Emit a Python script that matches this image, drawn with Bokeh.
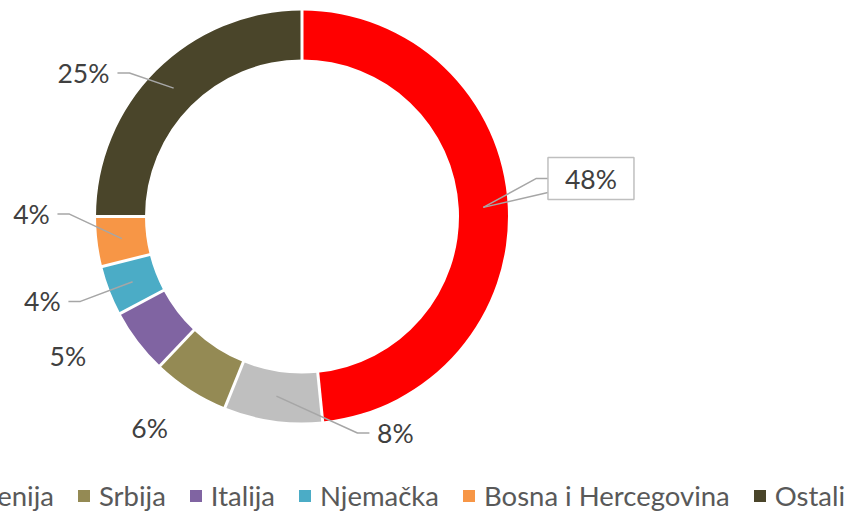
import numpy as np
from bokeh.plotting import figure
from bokeh.models import Range1d, ColumnDataSource, Legend, LegendItem
from bokeh.embed import file_html
from bokeh.resources import INLINE
from bokeh.core.properties import value

# ---- data ----
categories = ["Hrvatska", "Slovenija", "Srbija", "Italija", "Njemačka", "Bosna i Hercegovina", "Ostali"]
shares = [48.4, 7.7, 6.0, 5.1, 3.9, 3.9, 25.0]
colors = ["#FF0000", "#BFBFBF", "#948A54", "#8064A2", "#4BACC6", "#F79646", "#4A452A"]
# legend entries visible in the (cropped) reference
legend_shown = [False, True, True, True, True, True, True]

# ---- layout (pixels) ----
W, H = 855, 513
CX, CY = 301.5, 297.0
R_OUT, R_IN = 206.0, 157.0
R_MID = (R_OUT + R_IN) / 2
# label centre offsets from the ring point at each slice's mid angle
label_off = [(107.7, 28.8), (119.0, -36.8), (-54.2, -58.7), (-89.7, -30.0),
             (-90.2, -19.7), (-90.4, 24.6), (-90.2, 15.2)]
leader = ["box", "elbow", None, None, "elbow", "elbow", "elbow"]
elbow_dx = [0, -26, 0, 0, 26, 26, 34]
ELBOW_LEN = 12
BOX_W, BOX_H = 86, 42
FONT = "Lato"

vals = np.array(shares, dtype=float)
frac = vals / vals.sum()
cum = np.concatenate([[0.0], np.cumsum(frac)])
start = np.pi / 2 - 2 * np.pi * cum[:-1]
end = np.pi / 2 - 2 * np.pi * cum[1:]
mid = (start + end) / 2

src = ColumnDataSource(dict(start=start, end=end, color=colors, name=categories))

p = figure(width=W, height=H, x_range=Range1d(0, W), y_range=Range1d(0, H),
           output_backend="svg", toolbar_location=None, min_border=0,
           x_axis_type=None, y_axis_type=None)
p.grid.visible = False
p.outline_line_color = None
p.background_fill_color = "white"
p.border_fill_color = "white"

wedges = p.annular_wedge(x=CX, y=CY, inner_radius=R_IN, outer_radius=R_OUT,
                         start_angle="start", end_angle="end", direction="clock",
                         fill_color="color", line_color=None, source=src)

# white separators between slices
bnd = np.pi / 2 - 2 * np.pi * cum[:-1]
p.segment(x0=CX + (R_IN - 2) * np.cos(bnd), y0=CY + (R_IN - 2) * np.sin(bnd),
          x1=CX + (R_OUT + 2) * np.cos(bnd), y1=CY + (R_OUT + 2) * np.sin(bnd),
          line_color="white", line_width=3)

# labels and leaders
rx = CX + R_MID * np.cos(mid)
ry = CY + R_MID * np.sin(mid)
lx = rx + np.array([o[0] for o in label_off])
ly = ry + np.array([o[1] for o in label_off])
texts = [f"{int(round(v))}%" for v in vals]

xs, ys = [], []
for i, kind in enumerate(leader):
    if kind == "elbow":
        ex = lx[i] + elbow_dx[i]
        ex2 = ex + np.sign(elbow_dx[i]) * ELBOW_LEN
        xs.append([ex, ex2, rx[i]])
        ys.append([ly[i], ly[i], ry[i]])
    elif kind == "box":
        bl = lx[i] - BOX_W / 2
        xs.append([rx[i], bl - 12, bl])
        ys.append([ry[i], ly[i], ly[i]])
        xs.append([rx[i], bl])
        ys.append([ry[i], ly[i] - 14])
p.multi_line(xs=xs, ys=ys, line_color="#A6A6A6", line_width=1.5)

bi = [i for i, k in enumerate(leader) if k == "box"]
p.rect(x=lx[bi], y=ly[bi], width=BOX_W, height=BOX_H, fill_color="white",
       line_color="#BFBFBF", line_width=1.5)

p.text(x=lx, y=ly, text=texts, text_align="center", text_baseline="middle",
       text_font=value(FONT), text_font_size="26.5px", text_color="#404040")

items = [LegendItem(label=c, renderers=[wedges], index=i)
         for i, c in enumerate(categories) if legend_shown[i]]
legend = Legend(items=items, orientation="horizontal", location=(-76, 1),
                glyph_width=15, glyph_height=15, label_standoff=8, spacing=22,
                padding=0, margin=0, border_line_color=None, background_fill_alpha=0,
                label_text_font=FONT, label_text_font_size="27.5px", label_text_color="#595959")
p.add_layout(legend)

open("out.html", "w").write(file_html(p, INLINE))
